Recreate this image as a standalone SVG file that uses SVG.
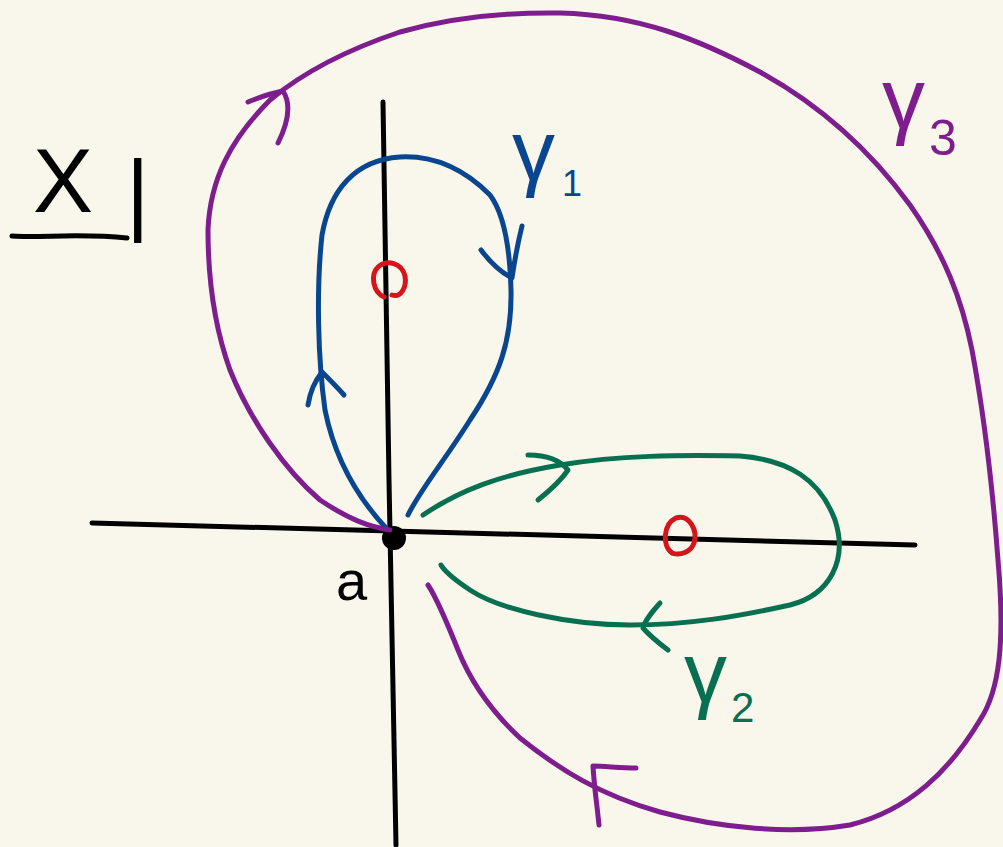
<svg xmlns="http://www.w3.org/2000/svg" width="1003" height="847" viewBox="0 0 1003 847">
<style>
.s{fill:none;stroke-linecap:round;stroke-linejoin:round;stroke-width:5}
.k{stroke:#000}
.b{stroke:#0a4690}
.g{stroke:#087050}
.p{stroke:#7e1e8e}
.r{stroke:#d6141c;stroke-width:5}
.t{font-family:"Liberation Sans",sans-serif}
</style>
<rect width="1003" height="847" fill="#f9f7eb"/>
<g id="axes">
<path class="s k" d="M92,523 L915,545"/>
<path class="s k" d="M383,102 L389,480 L396,845"/>
<circle cx="394" cy="538" r="12" fill="#000"/>
</g>
<g id="points">
<path class="s r" d="M384,297 C373,292 370,275 378,267 C387,259 402,263 405,276 C407,287 401,298 392,295"/>
<path class="s r" d="M672,553 C662,546 663,524 676,518 C689,514 698,530 694,543 C691,552 680,556 672,553"/>
</g>
<g id="connectors">
<g id="gamma1">
<path class="s b" d="M386,528 C360,500 335,460 325,410 C318,360 316,290 322,235 C330,190 355,160 400,157 C440,155 470,175 490,195 C505,215 510,250 511,290 C512,340 500,375 470,420 C445,460 420,490 408,515"/>
<path class="s b" d="M481,250 C490,262 500,272 512,278 C515,258 518,242 522,226"/>
<path class="s b" d="M308,405 C310,392 314,382 322,372 C330,380 338,388 344,395"/>
</g>
<g id="gamma2">
<path class="s g" d="M423,515 C460,490 500,475 560,465 C620,455 680,455 740,456 C790,460 820,480 835,520 C848,560 830,595 790,605 C740,616 690,625 630,625 C570,625 500,610 470,590 C455,580 445,572 441,565"/>
<path class="s g" d="M528,455 C545,455 560,460 568,470 C560,482 548,492 538,500"/>
<path class="s g" d="M660,603 C652,612 645,620 643,628 C650,636 660,644 668,650"/>
</g>
<g id="gamma3">
<path class="s p" d="M390,530 C370,527 350,520 320,500 C285,470 250,420 230,370 C212,320 208,270 208,230 C210,180 230,140 270,100 C300,75 340,52 400,32 C450,18 500,12 560,13 C640,15 700,40 760,72 C820,105 870,150 910,205 C945,255 962,300 972,350 C985,420 992,480 998,560 C1005,640 1000,690 980,720 C950,770 910,810 850,825 C790,835 720,828 660,812 C600,795 560,770 520,738 C490,710 470,680 458,650 C448,625 438,600 428,585"/>
<path class="s p" d="M248,102 C260,97 272,93 283,91 C292,105 287,125 278,143"/>
<path class="s p" d="M636,768 C620,768 605,766 593,766 C594,785 597,805 599,825"/>
</g>
</g>
<g id="labels">
<g id="label-X">
<text class="t" x="33" y="212" font-size="90" fill="#000">X</text>
<text class="t" x="126" y="224" font-size="90" fill="#000">|</text>
<path class="s k" d="M12,236 C40,238 80,233 127,238"/>
</g>
<text id="label-a" class="t" x="336" y="600" font-size="56" fill="#000">a</text>
<g id="label-g1"><text class="t" x="512" y="180" font-size="86" fill="#0a4690">γ</text><text class="t" x="562" y="196" font-size="36" fill="#0a4690">1</text></g>
<g id="label-g2"><text class="t" x="684" y="702" font-size="86" fill="#087050">γ</text><text class="t" x="731" y="722" font-size="42" fill="#087050">2</text></g>
<g id="label-g3"><text class="t" x="882" y="128" font-size="86" fill="#7e1e8e">γ</text><text class="t" x="929" y="155" font-size="50" fill="#7e1e8e">3</text></g>
</g>
</svg>
